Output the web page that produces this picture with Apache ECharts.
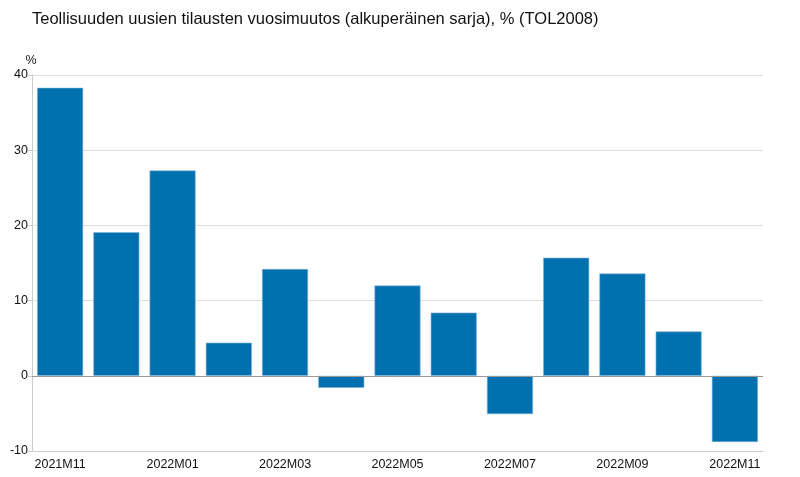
<!DOCTYPE html>
<html><head><meta charset="utf-8">
<script src="https://cdn.jsdelivr.net/npm/echarts@6/dist/echarts.min.js"></script>
<style>html,body{margin:0;padding:0;background:#fff}#c{width:800px;height:477px}</style>
</head><body><div id="c"></div>
<script>
const titleText = 'Teollisuuden uusien tilausten vuosimuutos (alkuperäinen sarja), % (TOL2008)';
const categories = ['2021M11','2021M12','2022M01','2022M02','2022M03','2022M04','2022M05','2022M06','2022M07','2022M08','2022M09','2022M10','2022M11'];
const values = [38.3, 19.1, 27.3, 4.4, 14.2, -1.6, 12.0, 8.4, -5.1, 15.7, 13.6, 5.9, -8.8];
const yTicks = {min: -10, max: 40, interval: 10};
const unit = '%';

const chart = echarts.init(document.getElementById('c'), null, {renderer: 'canvas'});
const font = 'Liberation Sans, Arial, sans-serif';
chart.setOption({
  animation: false,
  title: {text: titleText, left: 27, top: 6, textStyle: {fontFamily: font, fontSize: 16.5, fontWeight: 'normal', color: '#111'}},
  grid: {left: 32, right: 37, top: 75, bottom: 26, containLabel: false},
  xAxis: {
    type: 'category', data: categories, boundaryGap: true,
    axisLine: {onZero: false, lineStyle: {color: '#ccc', width: 1}},
    axisTick: {show: false},
    axisLabel: {interval: 1, fontFamily: font, fontSize: 12.5, color: '#111', margin: 7}
  },
  yAxis: {
    type: 'value', min: yTicks.min, max: yTicks.max, interval: yTicks.interval,
    name: unit, nameLocation: 'end', nameGap: 8,
    nameTextStyle: {fontFamily: font, fontSize: 12.5, color: '#111', align: 'center', padding: [0, 0, 0, -2]},
    axisLine: {show: true, lineStyle: {color: '#ccc'}},
    axisTick: {show: true, length: 4, lineStyle: {color: '#ccc'}},
    axisLabel: {fontFamily: font, fontSize: 12.5, color: '#111', margin: 4},
    splitLine: {lineStyle: {color: '#ddd'}}
  },
  series: [{
    type: 'bar', data: values, barWidth: 46,
    itemStyle: {color: '#0071ae', borderColor: '#7fb2d6', borderWidth: 0.6},
    markLine: {silent: true, symbol: 'none', label: {show: false},
      lineStyle: {color: '#999', type: 'solid', width: 1},
      data: [{yAxis: 0}]}
  }]
});
</script></body></html>
